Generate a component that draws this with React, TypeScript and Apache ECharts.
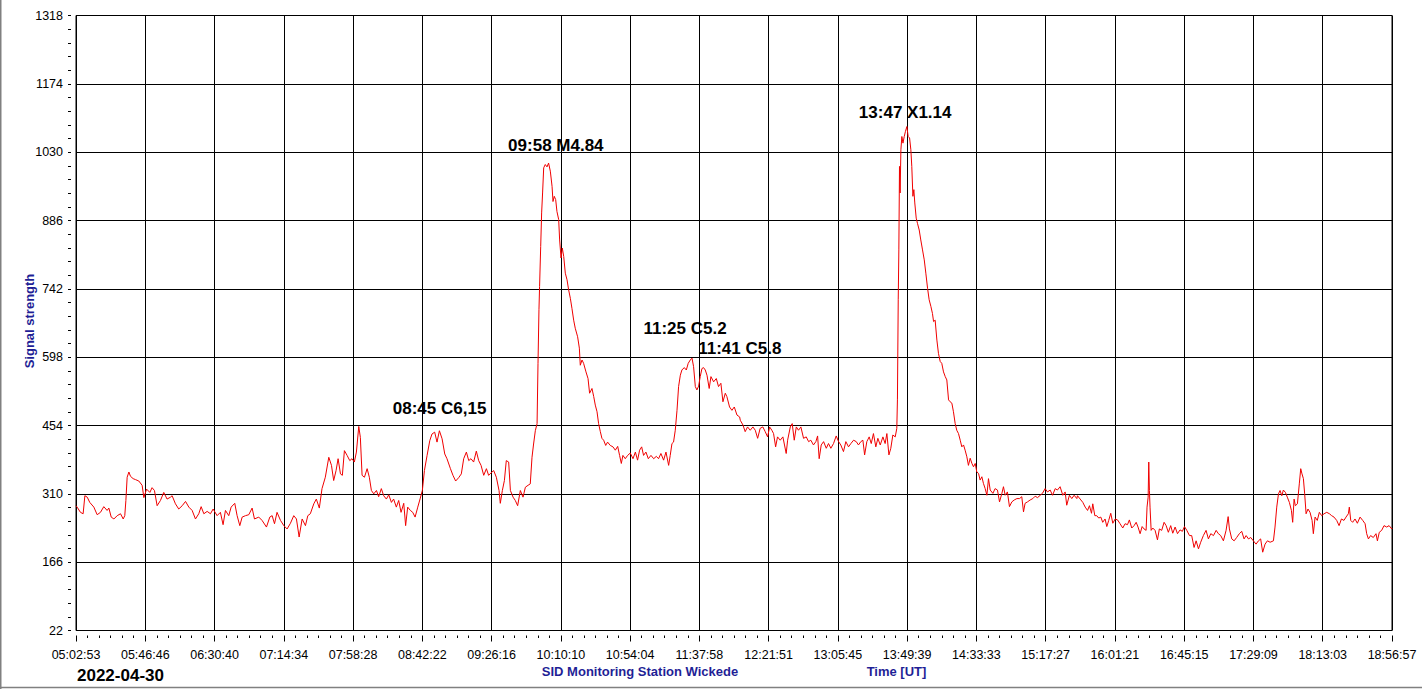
import { useEffect, useRef } from "react";
import * as echarts from "echarts";

// Time is in minutes of the day (UT), signal in receiver units.
const X_MIN = 302 + 53 / 60; // 05:02:53
const X_MAX = 1136 + 57 / 60; // 18:56:57
const X_STEP = (X_MAX - X_MIN) / 19;

const X_TICKS = [
  "05:02:53", "05:46:46", "06:30:40", "07:14:34", "07:58:28", "08:42:22", "09:26:16",
  "10:10:10", "10:54:04", "11:37:58", "12:21:51", "13:05:45", "13:49:39", "14:33:33",
  "15:17:27", "16:01:21", "16:45:15", "17:29:09", "18:13:03", "18:56:57",
];

const Y_MIN = 22;
const Y_MAX = 1318;
const Y_STEP = 144;

const EARLY_MORNING: [number, number][] = [
  [302.9, 285], [303.6, 282], [305.7, 271], [307.4, 268], [308.5, 306], [310.0, 303],
  [311.6, 292], [314.2, 282], [316.3, 266], [318.4, 271], [320.5, 283], [322.6, 275],
  [323.7, 280], [325.2, 261], [326.9, 257], [329.0, 264], [331.1, 268], [332.8, 257],
  [333.8, 264], [334.5, 296], [335.3, 345], [336.4, 356], [337.4, 347], [339.1, 342],
  [340.6, 340], [342.7, 337], [344.8, 328], [345.9, 302], [347.6, 320], [349.7, 313],
  [351.1, 323], [352.6, 317], [354.3, 285], [356.4, 296], [358.5, 313], [360.6, 299],
  [362.8, 303], [363.8, 306], [365.9, 289], [368.0, 278], [370.2, 285], [372.3, 294],
  [374.4, 282], [376.5, 275], [378.6, 257], [380.7, 268], [382.2, 283], [383.9, 268],
  [386.0, 273], [388.1, 268], [389.8, 278], [392.3, 264], [394.4, 271], [396.1, 245],
  [397.6, 275], [399.7, 264], [401.2, 282], [403.5, 290], [405.0, 264], [406.7, 243],
  [408.2, 261], [410.3, 264], [412.4, 266], [414.5, 280], [416.0, 257], [418.7, 261],
  [420.8, 254], [423.6, 240], [425.7, 261], [427.2, 264], [428.7, 247], [430.3, 271],
  [432.5, 254], [434.6, 243], [436.7, 236], [438.8, 248], [440.9, 264], [442.6, 257],
  [444.3, 219], [446.2, 257], [448.3, 243], [449.8, 264],
];

const LATE_MORNING: [number, number][] = [
  [451.4, 268], [453.6, 289], [455.2, 299], [457.1, 280], [458.8, 321], [460.9, 345],
  [463.1, 387], [464.8, 370], [466.2, 338], [467.7, 359], [469.0, 384], [470.5, 352],
  [471.7, 349], [473.0, 401], [474.7, 391], [476.4, 380], [477.8, 384], [479.3, 377],
  [480.6, 398], [482.1, 452], [483.1, 429], [484.2, 349], [485.7, 345], [487.4, 363],
  [488.8, 345], [490.1, 317], [491.6, 310], [493.3, 317], [494.7, 304], [496.4, 321],
  [497.9, 306], [499.6, 299], [501.1, 308], [502.8, 292], [504.2, 299], [505.9, 282],
  [507.4, 296], [508.9, 271], [510.6, 290], [511.8, 243], [513.1, 282], [514.8, 275],
  [516.3, 271], [517.8, 261], [519.5, 282], [521.1, 301], [522.4, 317], [523.7, 359],
  [525.4, 391], [527.1, 422], [528.5, 436], [530.2, 440], [531.7, 419], [533.2, 443],
  [534.9, 426], [536.6, 394], [538.0, 384], [540.2, 363], [541.8, 349], [543.5, 337],
  [545.4, 344], [547.1, 352], [548.6, 384], [550.3, 398], [551.8, 380], [553.2, 384],
  [554.9, 377], [556.6, 400], [558.1, 380], [559.6, 370], [561.3, 349], [563.0, 363],
  [564.4, 349], [565.9, 354], [567.6, 359], [569.3, 345], [571.0, 317], [571.8, 290],
  [573.1, 317], [574.4, 338], [575.6, 380], [577.1, 377], [578.2, 317], [579.9, 303],
  [581.3, 296], [582.8, 285], [584.5, 317], [586.2, 303], [587.7, 324], [589.4, 328],
  [590.8, 331], [591.9, 387], [592.9, 415], [594.0, 443],
];

const M_FLARE: [number, number][] = [
  [595.1, 458], [595.7, 585], [596.3, 698], [596.7, 747], [597.4, 831], [598.0, 902],
  [598.6, 944], [599.3, 997], [600.3, 1004], [601.4, 999], [602.4, 1007], [603.5, 990],
  [604.6, 958], [605.2, 926], [606.0, 937], [606.9, 930], [607.7, 905], [608.8, 888],
  [609.4, 845], [610.3, 807], [611.1, 828], [612.0, 810], [613.0, 775], [614.1, 761],
  [615.1, 740], [616.2, 722], [617.2, 701], [618.3, 676], [619.3, 659], [620.8, 641],
  [621.9, 617], [622.5, 581], [623.6, 592], [624.6, 585], [626.1, 567], [627.4, 553],
  [628.4, 522], [629.9, 532], [631.0, 515], [632.0, 497], [633.1, 483], [634.1, 458],
  [635.2, 441], [636.2, 427], [637.3, 423], [638.6, 412], [639.8, 419], [641.5, 412],
  [643.2, 409], [644.7, 402], [646.2, 410], [647.4, 391], [648.5, 374], [649.5, 391],
  [651.0, 384], [652.5, 391], [654.2, 396], [655.9, 384], [657.4, 398], [658.8, 381],
  [660.1, 402], [661.4, 409], [662.6, 391], [664.1, 398], [665.6, 384], [667.3, 391],
  [669.0, 384], [670.7, 389], [672.1, 384], [673.6, 395], [675.3, 381], [676.8, 398],
  [678.5, 370], [679.5, 391], [680.6, 416], [681.6, 419], [682.7, 444], [683.8, 486],
  [684.8, 536], [685.9, 560], [686.9, 571], [688.4, 576], [689.7, 571], [690.9, 585],
  [692.2, 592], [693.3, 596], [694.3, 578], [695.4, 536], [696.4, 529], [697.5, 537],
  [698.5, 557], [699.6, 574], [700.6, 576], [701.7, 571], [702.8, 560], [704.2, 532],
  [705.3, 557], [707.0, 546], [708.7, 553], [710.1, 536], [711.6, 543], [712.9, 504],
  [714.4, 522], [715.4, 515], [717.1, 493], [718.6, 486], [720.1, 493], [721.8, 476],
  [723.5, 472],
];

const MIDDAY: [number, number][] = [
  [723.9, 465], [725.6, 455], [727.0, 441], [728.5, 451], [730.2, 444], [731.9, 451],
  [733.4, 444], [734.9, 427], [736.5, 448], [738.2, 451], [739.7, 441], [741.2, 430],
  [742.5, 451], [743.9, 444], [745.0, 437], [746.3, 409], [747.5, 430], [749.2, 423],
  [750.9, 430], [753.0, 395], [753.9, 423], [755.6, 451], [756.8, 458], [758.1, 423],
  [759.4, 451], [760.8, 444], [762.3, 451], [764.0, 427], [765.7, 430], [767.2, 420],
  [768.6, 423], [770.3, 413], [771.8, 420], [772.9, 432], [773.9, 384], [775.2, 413],
  [776.7, 420], [778.4, 406], [779.8, 416], [781.3, 406], [783.0, 416], [784.7, 432],
  [786.2, 420], [787.6, 413], [789.3, 399], [790.8, 420], [792.5, 409], [794.0, 416],
  [795.7, 423], [797.4, 420], [798.8, 413], [800.3, 420], [801.6, 423], [802.7, 392],
  [804.1, 420], [805.6, 430], [806.9, 416], [808.3, 437], [809.8, 409], [811.1, 427],
  [812.6, 413], [814.3, 430], [815.7, 416], [816.8, 437], [818.1, 392], [819.3, 406],
  [820.6, 434], [822.1, 430], [823.1, 448],
];

const X_FLARE: [number, number][] = [
  [823.5, 508], [824.0, 719], [824.4, 824], [824.8, 1000], [825.2, 944], [825.7, 1035],
  [826.3, 1063], [827.0, 1049], [827.8, 1063], [828.6, 1074], [829.5, 1084], [830.3, 1063],
  [831.2, 1060], [832.0, 1035], [832.6, 1000], [833.3, 937], [833.9, 951], [834.5, 923],
  [835.4, 891], [836.2, 880], [837.3, 866], [838.3, 845], [839.4, 824], [840.5, 803],
  [841.5, 775], [842.6, 743], [843.6, 719], [844.7, 705], [845.7, 690], [846.4, 673],
  [847.4, 676], [848.5, 634], [849.5, 606], [850.6, 589], [851.6, 585], [852.7, 567],
  [853.8, 557], [854.8, 550], [855.9, 508], [856.9, 504], [858.0, 501], [859.0, 483],
  [860.1, 458], [861.1, 444], [862.2, 437], [863.3, 423], [864.3, 409], [865.4, 413],
  [866.4, 402], [867.5, 388], [868.5, 370], [869.6, 385], [870.7, 374], [871.7, 367],
  [872.8, 374], [873.8, 356], [874.9, 353], [875.9, 339], [877.0, 346], [878.0, 332],
  [879.1, 321], [880.2, 307], [881.2, 342], [882.3, 318], [884.0, 311], [885.4, 321],
  [886.9, 318], [888.2, 293], [889.7, 311], [890.7, 325], [891.8, 307], [893.2, 314],
  [894.5, 283], [896.0, 293], [897.5, 297], [899.2, 300], [900.9, 300], [902.3, 304],
  [903.4, 272], [904.4, 290], [905.9, 293], [907.6, 297], [909.3, 300], [910.8, 305],
  [912.3, 302], [914.0, 307], [915.4, 311], [917.1, 321], [918.6, 314], [920.3, 318],
  [921.8, 307], [923.5, 321], [924.9, 318], [926.6, 325], [928.3, 307], [929.8, 314],
  [930.8, 286], [932.5, 307], [934.0, 300], [935.5, 307], [937.2, 300],
];

const AFTERNOON: [number, number][] = [
  [937.6, 306], [939.3, 299], [941.0, 292], [942.5, 282], [944.0, 275], [945.2, 285],
  [946.5, 269], [947.3, 289], [948.6, 264], [949.8, 264], [951.1, 259], [952.4, 261],
  [953.6, 250], [955.1, 257], [956.2, 241], [957.4, 254], [958.7, 269], [960.0, 248],
  [961.5, 257], [963.0, 255], [964.6, 247], [966.3, 238], [967.8, 247], [969.3, 245],
  [970.5, 255], [972.0, 238], [973.5, 243], [974.8, 250], [976.0, 240], [977.3, 226],
  [978.6, 241], [979.8, 236], [981.1, 233], [981.7, 282], [982.4, 303], [982.8, 377],
  [983.2, 317], [983.6, 282], [984.3, 233], [985.3, 238], [986.8, 233], [988.3, 213],
  [989.5, 236], [991.0, 233], [992.5, 250], [993.8, 243], [995.2, 229], [996.7, 243],
  [998.0, 227], [999.5, 240], [1001.0, 226], [1002.6, 234], [1004.1, 231], [1005.4, 241],
  [1006.9, 233], [1008.6, 222], [1010.0, 222], [1011.5, 197], [1012.8, 211], [1014.3, 194],
  [1015.7, 208], [1017.4, 222], [1019.1, 233], [1020.6, 215], [1022.1, 226], [1023.8, 222],
  [1025.5, 233], [1026.9, 226], [1028.4, 222],
];

const EVENING: [number, number][] = [
  [1030.1, 211], [1031.8, 233], [1033.1, 262], [1033.9, 236], [1035.4, 215], [1036.9, 211],
  [1038.5, 218], [1040.2, 226], [1041.7, 231], [1043.2, 215], [1044.5, 222], [1046.0, 215],
  [1047.4, 218], [1049.1, 211], [1050.8, 204], [1052.3, 211], [1053.7, 215], [1055.0, 187],
  [1056.5, 204], [1058.0, 211], [1059.7, 208], [1061.8, 211], [1062.8, 240], [1063.9, 282],
  [1065.0, 310], [1066.0, 317], [1067.1, 306], [1068.1, 318], [1069.4, 313], [1070.6, 303],
  [1071.9, 292], [1073.2, 275], [1074.0, 250], [1074.9, 299], [1075.7, 285], [1077.0, 289],
  [1078.2, 331], [1079.1, 363], [1079.9, 352], [1080.8, 342], [1081.6, 310], [1082.5, 268],
  [1083.7, 278], [1085.0, 271], [1086.3, 254], [1087.1, 226], [1088.2, 261], [1089.6, 254],
  [1090.9, 271], [1092.4, 264], [1093.9, 268], [1095.6, 271], [1097.3, 268], [1098.7, 264],
  [1100.2, 261], [1101.9, 254], [1103.4, 243], [1104.9, 257], [1106.5, 254], [1107.8, 261],
  [1109.3, 268], [1109.9, 282], [1110.8, 254], [1112.0, 250], [1113.5, 257], [1115.0, 248],
  [1116.7, 261], [1118.4, 254], [1119.9, 247], [1120.9, 226], [1122.0, 215], [1123.4, 222],
  [1125.1, 218], [1126.8, 226], [1127.7, 211], [1128.9, 229], [1130.4, 233], [1131.9, 243],
  [1133.6, 240], [1135.1, 243], [1136.8, 236], [1136.95, 238],
];

const FLARE_LABELS = [
  { text: "08:45 C6,15", t: 533.3, v: 489 },
  { text: "09:58 M4.84", t: 607.0, v: 1045 },
  { text: "11:25 C5.2", t: 688.9, v: 659 },
  { text: "11:41 C5.8", t: 723.6, v: 617 },
  { text: "13:47 X1.14", t: 828.4, v: 1113 },
];

const FONT = "'Liberation Sans', Arial, sans-serif";
const NAVY = "#1f1f96";

export default function App() {
  const chartRef = useRef<HTMLDivElement>(null);

  useEffect(() => {
    document.body.style.margin = "0";
    if (!chartRef.current) return;
    const chart = echarts.init(chartRef.current, undefined, { renderer: "svg" });

    const signal = [
      ...EARLY_MORNING,
      ...LATE_MORNING,
      ...M_FLARE,
      ...MIDDAY,
      ...X_FLARE,
      ...AFTERNOON,
      ...EVENING,
    ];

    const option: echarts.EChartsOption = {
      animation: false,
      backgroundColor: "#fff",
      textStyle: { fontFamily: FONT },
      grid: {
        left: 76,
        right: 30,
        top: 15.5,
        bottom: 58.5,
        show: true,
        borderColor: "#000",
        borderWidth: 1,
        containLabel: false,
      },
      xAxis: {
        type: "value",
        min: X_MIN,
        max: X_MAX,
        interval: X_STEP,
        offset: 5,
        axisLine: { show: false },
        axisTick: { show: true, length: 6, lineStyle: { color: "#000" } },
        minorTick: { show: true, splitNumber: 6, length: 2.5, lineStyle: { color: "#000" } },
        axisLabel: {
          color: "#000",
          fontSize: 12.5,
          fontFamily: FONT,
          margin: 13,
          showMinLabel: true,
          showMaxLabel: true,
          formatter: (v: number) => X_TICKS[Math.round((v - X_MIN) / X_STEP)] ?? "",
        },
        splitLine: { show: true, lineStyle: { color: "#000", width: 1 } },
      },
      yAxis: {
        type: "value",
        min: Y_MIN,
        max: Y_MAX,
        interval: Y_STEP,
        offset: 5,
        axisLine: { show: false },
        axisTick: { show: true, length: 3, lineStyle: { color: "#000" } },
        minorTick: { show: true, splitNumber: 5, length: 3, lineStyle: { color: "#000" } },
        axisLabel: {
          color: "#000",
          fontSize: 12.5,
          fontFamily: FONT,
          margin: 8,
          formatter: (v: number) => String(Math.round(v)),
        },
        splitLine: { show: true, lineStyle: { color: "#000", width: 1 } },
      },
      series: [
        {
          type: "line",
          data: signal,
          showSymbol: false,
          symbol: "none",
          lineStyle: { color: "#f00000", width: 1 },
          silent: true,
          z: 3,
        },
        {
          type: "scatter",
          data: FLARE_LABELS.map((f) => ({ name: f.text, value: [f.t, f.v] })),
          symbolSize: 1,
          itemStyle: { color: "rgba(255,255,255,0)" },
          silent: true,
          z: 5,
          label: {
            show: true,
            position: "inside",
            formatter: "{b}",
            color: "#000",
            opacity: 1,
            textBorderWidth: 0,
            fontSize: 17,
            fontWeight: "bold",
            fontFamily: FONT,
          },
        },
      ],
      graphic: [
        {
          type: "line",
          shape: { x1: 0.75, y1: 0, x2: 0.75, y2: 689 },
          style: { stroke: "#808080", lineWidth: 1.5 },
        },
        {
          type: "line",
          shape: { x1: 0, y1: 687.5, x2: 1422, y2: 687.5 },
          style: { stroke: "#808080", lineWidth: 1.5 },
        },
        {
          type: "text",
          x: 77,
          y: 675,
          style: {
            text: "2022-04-30",
            fontSize: 17,
            fontWeight: "bold",
            fontFamily: FONT,
            fill: "#000",
            align: "left",
            verticalAlign: "middle",
          },
        },
        {
          type: "text",
          x: 640,
          y: 671,
          style: {
            text: "SID Monitoring Station Wickede",
            fontSize: 13,
            fontWeight: "bold",
            fontFamily: FONT,
            fill: NAVY,
            align: "center",
            verticalAlign: "middle",
          },
        },
        {
          type: "text",
          x: 896.5,
          y: 671,
          style: {
            text: "Time [UT]",
            fontSize: 13,
            fontWeight: "bold",
            fontFamily: FONT,
            fill: NAVY,
            align: "center",
            verticalAlign: "middle",
          },
        },
        {
          type: "text",
          x: 29,
          y: 321,
          rotation: Math.PI / 2,
          style: {
            text: "Signal strength",
            fontSize: 13,
            fontWeight: "bold",
            fontFamily: FONT,
            fill: NAVY,
            align: "center",
            verticalAlign: "middle",
          },
        },
      ],
    };

    chart.setOption(option);

    return () => {
      chart.dispose();
    };
  }, []);

  return <div ref={chartRef} style={{ width: 1422, height: 689 }} />;
}
